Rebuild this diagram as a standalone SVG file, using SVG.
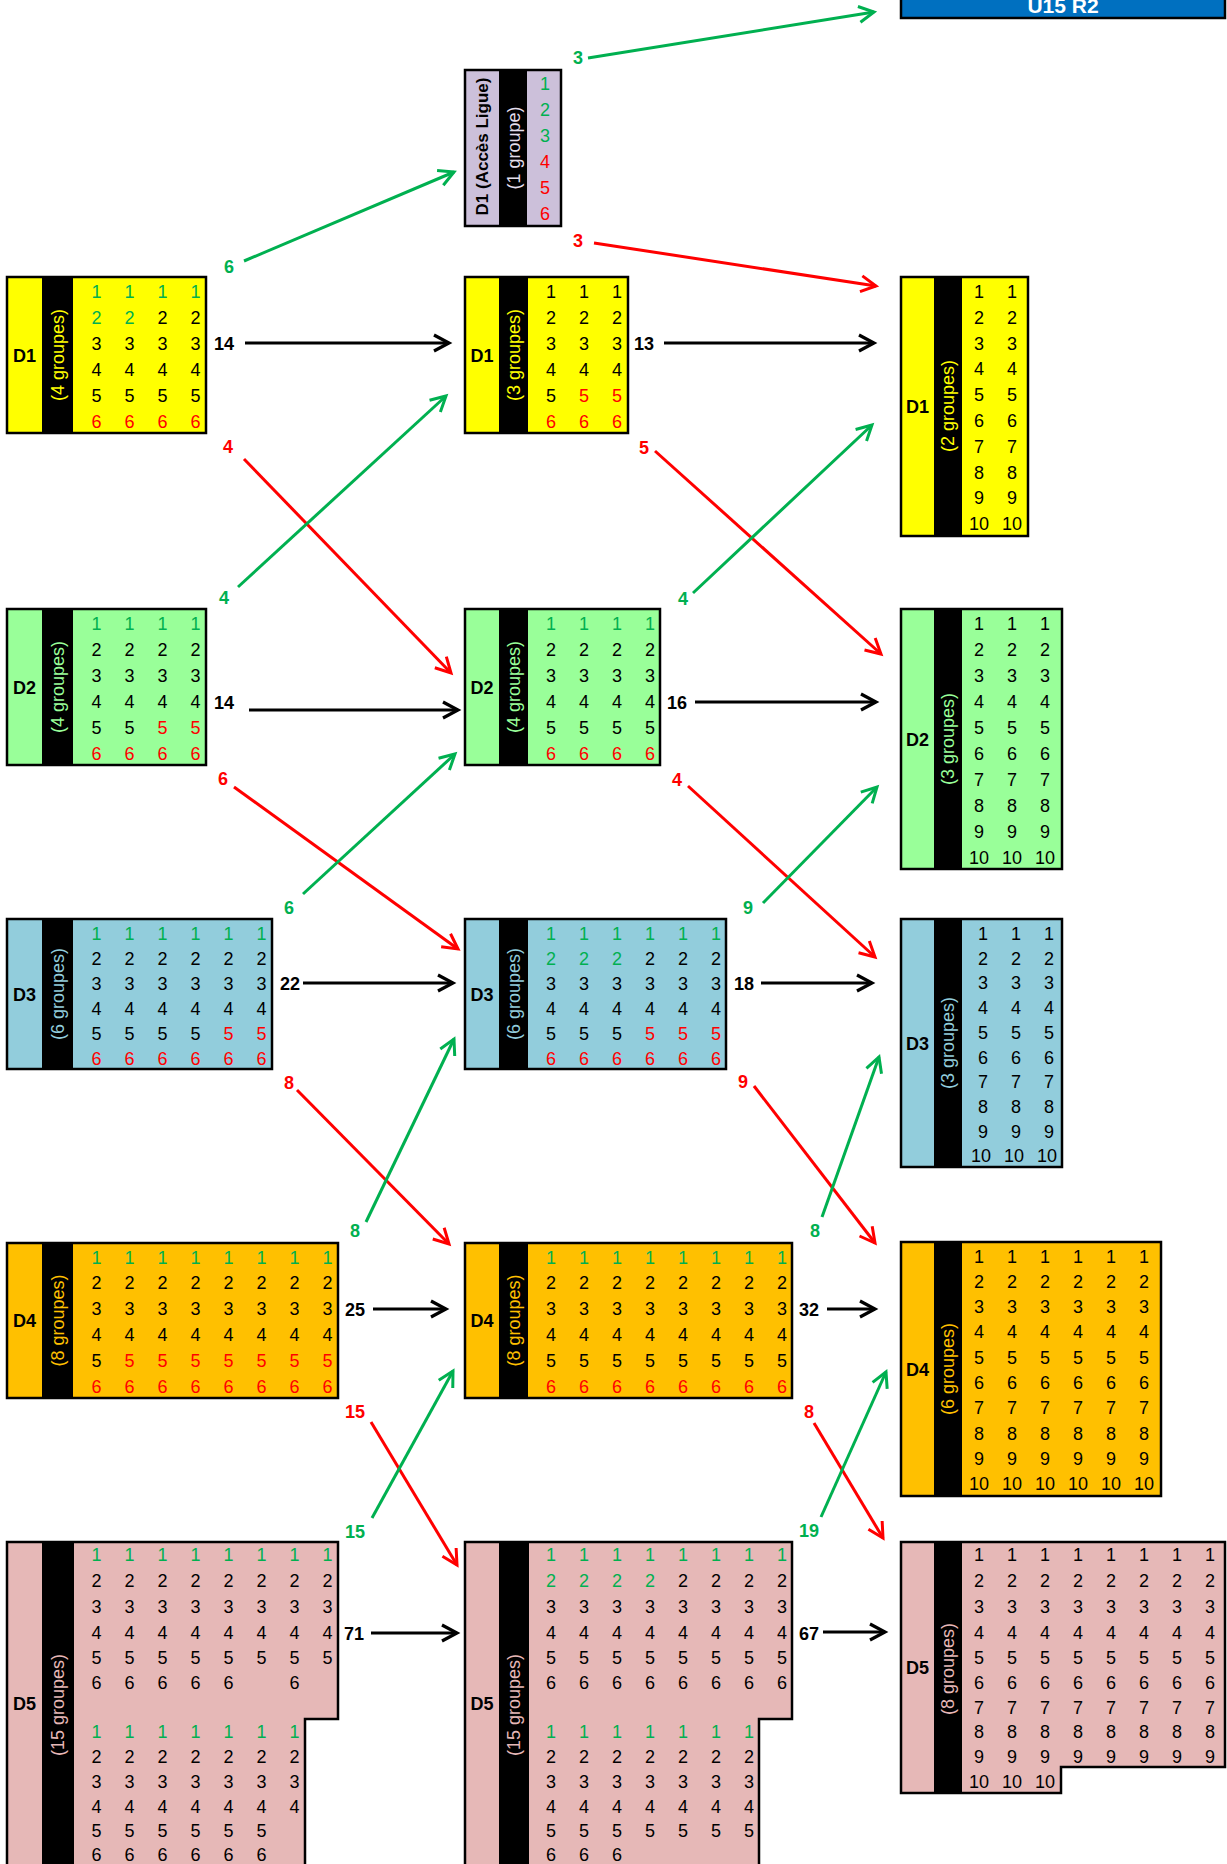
<svg xmlns="http://www.w3.org/2000/svg" width="1227" height="1864" viewBox="0 0 1227 1864">
<style>
text { font-family: "Liberation Sans", Arial, sans-serif; }
.n { font-size: 18px; text-anchor: middle; fill: #000; }
.g { fill: #00B050; }
.r { fill: #FF0000; }
.lab { font-size: 18px; font-weight: bold; text-anchor: middle; fill: #000; }
.grp { font-size: 18px; text-anchor: middle; }
.box { stroke: #000; stroke-width: 2.5; }
.cl { font-size: 18px; font-weight: bold; text-anchor: middle; }
.lk { stroke: #000; stroke-width: 3.2; fill: none; marker-end: url(#mk); }
.lg { stroke: #00B050; stroke-width: 3; fill: none; marker-end: url(#mg); }
.lr { stroke: #FF0000; stroke-width: 3; fill: none; marker-end: url(#mr); }
</style>
<defs>
<marker id="mk" markerUnits="userSpaceOnUse" markerWidth="20" markerHeight="20" viewBox="-18 -10 20 20" refX="0" refY="0" orient="auto" overflow="visible"><path d="M-15,-8 L0,0 L-15,8" fill="none" stroke="#000" stroke-width="3.2"/></marker>
<marker id="mg" markerUnits="userSpaceOnUse" markerWidth="20" markerHeight="20" viewBox="-18 -10 20 20" refX="0" refY="0" orient="auto" overflow="visible"><path d="M-15,-8 L0,0 L-15,8" fill="none" stroke="#00B050" stroke-width="3"/></marker>
<marker id="mr" markerUnits="userSpaceOnUse" markerWidth="20" markerHeight="20" viewBox="-18 -10 20 20" refX="0" refY="0" orient="auto" overflow="visible"><path d="M-15,-8 L0,0 L-15,8" fill="none" stroke="#FF0000" stroke-width="3"/></marker>
</defs>
<rect x="0" y="0" width="1227" height="1864" fill="#fff"/>

<g id="connectors">
<line class="lg" x1="588" y1="58" x2="874" y2="12"/>
<line class="lg" x1="244" y1="261" x2="454" y2="172"/>
<line class="lr" x1="594" y1="243" x2="876" y2="286"/>
<line class="lk" x1="245" y1="343" x2="449" y2="343"/>
<line class="lk" x1="664" y1="343" x2="874" y2="343"/>
<line class="lr" x1="244" y1="459" x2="451" y2="673"/>
<line class="lr" x1="655" y1="451" x2="881" y2="654"/>
<line class="lg" x1="238" y1="587" x2="446" y2="396"/>
<line class="lg" x1="693" y1="593" x2="872" y2="425"/>
<line class="lk" x1="249" y1="710" x2="458" y2="710"/>
<line class="lk" x1="695" y1="702" x2="876" y2="702"/>
<line class="lr" x1="234" y1="787" x2="458" y2="949"/>
<line class="lg" x1="303" y1="894" x2="455" y2="754"/>
<line class="lr" x1="688" y1="786" x2="875" y2="957"/>
<line class="lg" x1="763" y1="903" x2="877" y2="787"/>
<line class="lk" x1="303" y1="983" x2="453" y2="983"/>
<line class="lk" x1="761" y1="983" x2="872" y2="983"/>
<line class="lr" x1="297" y1="1090" x2="449" y2="1244"/>
<line class="lg" x1="366" y1="1222" x2="454" y2="1039"/>
<line class="lr" x1="754" y1="1086" x2="875" y2="1243"/>
<line class="lg" x1="822" y1="1217" x2="879" y2="1057"/>
<line class="lk" x1="373" y1="1309" x2="446" y2="1309"/>
<line class="lk" x1="827" y1="1309" x2="875" y2="1309"/>
<line class="lr" x1="371" y1="1422" x2="457" y2="1565"/>
<line class="lg" x1="372" y1="1518" x2="453" y2="1371"/>
<line class="lr" x1="814" y1="1423" x2="883" y2="1538"/>
<line class="lg" x1="821" y1="1517" x2="886" y2="1372"/>
<line class="lk" x1="371" y1="1633" x2="457" y2="1633"/>
<line class="lk" x1="823" y1="1632" x2="885" y2="1632"/>
<text class="cl g" x="578" y="63.5">3</text>
<text class="cl g" x="229" y="272.5">6</text>
<text class="cl r" x="578" y="246.5">3</text>
<text class="cl" x="224" y="349.5">14</text>
<text class="cl" x="644" y="349.5">13</text>
<text class="cl r" x="228" y="452.5">4</text>
<text class="cl r" x="644" y="453.5">5</text>
<text class="cl g" x="224" y="603.5">4</text>
<text class="cl g" x="683" y="604.5">4</text>
<text class="cl" x="224" y="708.5">14</text>
<text class="cl" x="677" y="708.5">16</text>
<text class="cl r" x="223" y="784.5">6</text>
<text class="cl g" x="289" y="913.5">6</text>
<text class="cl r" x="677" y="785.5">4</text>
<text class="cl g" x="748" y="913.5">9</text>
<text class="cl" x="290" y="989.5">22</text>
<text class="cl" x="744" y="989.5">18</text>
<text class="cl r" x="289" y="1088.5">8</text>
<text class="cl g" x="355" y="1236.5">8</text>
<text class="cl r" x="743" y="1087.5">9</text>
<text class="cl g" x="815" y="1236.5">8</text>
<text class="cl" x="355" y="1315.5">25</text>
<text class="cl" x="809" y="1315.5">32</text>
<text class="cl r" x="355" y="1417.5">15</text>
<text class="cl g" x="355" y="1537.5">15</text>
<text class="cl r" x="809" y="1417.5">8</text>
<text class="cl g" x="809" y="1536.5">19</text>
<text class="cl" x="354" y="1639.5">71</text>
<text class="cl" x="809" y="1639.5">67</text>
</g>

<g id="u15r2">
<rect class="box" x="901" y="-10" width="324" height="28" fill="#0070C0"/>
<text x="1063" y="13" font-size="21" font-weight="bold" text-anchor="middle" fill="#fff">U15 R2</text>
</g>

<g id="d1-acces">
<rect class="box" x="465" y="70" width="96" height="156" fill="#CCC0DA"/>
<rect x="499" y="70" width="28" height="156" fill="#000"/>
<text transform="translate(482,146.5) rotate(-90)" dy="0.35em" font-size="17" font-weight="bold" text-anchor="middle" fill="#000">D1 (Accès Ligue)</text>
<text class="grp" transform="translate(513.5,148) rotate(-90)" dy="0.35em" fill="#E4DFEC">(1 groupe)</text>
<g class="n">
<text class="g" x="545" y="89.5">1</text>
<text class="g" x="545" y="115.5">2</text>
<text class="g" x="545" y="141.5">3</text>
<text class="r" x="545" y="167.5">4</text>
<text class="r" x="545" y="193.5">5</text>
<text class="r" x="545" y="219.5">6</text>
</g>
</g>

<g id="d1-left">
<rect class="box" x="7" y="277" width="199" height="156" fill="#FFFF00"/>
<rect x="42" y="277" width="31" height="156" fill="#000"/>
<text class="lab" x="24.5" y="361.5">D1</text>
<text class="grp" transform="translate(57.5,355) rotate(-90)" dy="0.35em" fill="#FFFF00">(4 groupes)</text>
<g class="n">
<text class="g" x="96.5" y="298">1</text><text class="g" x="129.5" y="298">1</text><text class="g" x="162.5" y="298">1</text><text class="g" x="195.5" y="298">1</text>
<text class="g" x="96.5" y="324">2</text><text class="g" x="129.5" y="324">2</text><text x="162.5" y="324">2</text><text x="195.5" y="324">2</text>
<text x="96.5" y="350">3</text><text x="129.5" y="350">3</text><text x="162.5" y="350">3</text><text x="195.5" y="350">3</text>
<text x="96.5" y="376">4</text><text x="129.5" y="376">4</text><text x="162.5" y="376">4</text><text x="195.5" y="376">4</text>
<text x="96.5" y="402">5</text><text x="129.5" y="402">5</text><text x="162.5" y="402">5</text><text x="195.5" y="402">5</text>
<text class="r" x="96.5" y="428">6</text><text class="r" x="129.5" y="428">6</text><text class="r" x="162.5" y="428">6</text><text class="r" x="195.5" y="428">6</text>
</g>
</g>

<g id="d1-mid">
<rect class="box" x="465" y="277" width="163" height="156" fill="#FFFF00"/>
<rect x="499" y="277" width="29" height="156" fill="#000"/>
<text class="lab" x="482" y="361.5">D1</text>
<text class="grp" transform="translate(513.5,355) rotate(-90)" dy="0.35em" fill="#FFFF00">(3 groupes)</text>
<g class="n">
<text x="551" y="298">1</text><text x="584" y="298">1</text><text x="617" y="298">1</text>
<text x="551" y="324">2</text><text x="584" y="324">2</text><text x="617" y="324">2</text>
<text x="551" y="350">3</text><text x="584" y="350">3</text><text x="617" y="350">3</text>
<text x="551" y="376">4</text><text x="584" y="376">4</text><text x="617" y="376">4</text>
<text x="551" y="402">5</text><text class="r" x="584" y="402">5</text><text class="r" x="617" y="402">5</text>
<text class="r" x="551" y="428">6</text><text class="r" x="584" y="428">6</text><text class="r" x="617" y="428">6</text>
</g>
</g>

<g id="d1-right">
<rect class="box" x="901" y="277" width="127" height="259" fill="#FFFF00"/>
<rect x="934" y="277" width="28" height="259" fill="#000"/>
<text class="lab" x="917.5" y="413">D1</text>
<text class="grp" transform="translate(948,406) rotate(-90)" dy="0.35em" fill="#FFFF00">(2 groupes)</text>
<g class="n">
<text x="979" y="298">1</text><text x="1012" y="298">1</text>
<text x="979" y="324">2</text><text x="1012" y="324">2</text>
<text x="979" y="350">3</text><text x="1012" y="350">3</text>
<text x="979" y="375">4</text><text x="1012" y="375">4</text>
<text x="979" y="401">5</text><text x="1012" y="401">5</text>
<text x="979" y="427">6</text><text x="1012" y="427">6</text>
<text x="979" y="453">7</text><text x="1012" y="453">7</text>
<text x="979" y="478.5">8</text><text x="1012" y="478.5">8</text>
<text x="979" y="504">9</text><text x="1012" y="504">9</text>
<text x="979" y="530">10</text><text x="1012" y="530">10</text>
</g>
</g>

<g id="d2-left">
<rect class="box" x="7" y="609" width="199" height="156" fill="#99FF99"/>
<rect x="42" y="609" width="31" height="156" fill="#000"/>
<text class="lab" x="24.5" y="693.5">D2</text>
<text class="grp" transform="translate(57.5,687) rotate(-90)" dy="0.35em" fill="#99FF99">(4 groupes)</text>
<g class="n">
<text class="g" x="96.5" y="630">1</text><text class="g" x="129.5" y="630">1</text><text class="g" x="162.5" y="630">1</text><text class="g" x="195.5" y="630">1</text>
<text x="96.5" y="656">2</text><text x="129.5" y="656">2</text><text x="162.5" y="656">2</text><text x="195.5" y="656">2</text>
<text x="96.5" y="682">3</text><text x="129.5" y="682">3</text><text x="162.5" y="682">3</text><text x="195.5" y="682">3</text>
<text x="96.5" y="708">4</text><text x="129.5" y="708">4</text><text x="162.5" y="708">4</text><text x="195.5" y="708">4</text>
<text x="96.5" y="734">5</text><text x="129.5" y="734">5</text><text class="r" x="162.5" y="734">5</text><text class="r" x="195.5" y="734">5</text>
<text class="r" x="96.5" y="760">6</text><text class="r" x="129.5" y="760">6</text><text class="r" x="162.5" y="760">6</text><text class="r" x="195.5" y="760">6</text>
</g>
</g>

<g id="d2-mid">
<rect class="box" x="465" y="609" width="195" height="156" fill="#99FF99"/>
<rect x="499" y="609" width="29" height="156" fill="#000"/>
<text class="lab" x="482" y="693.5">D2</text>
<text class="grp" transform="translate(513.5,687) rotate(-90)" dy="0.35em" fill="#99FF99">(4 groupes)</text>
<g class="n">
<text class="g" x="551" y="630">1</text><text class="g" x="584" y="630">1</text><text class="g" x="617" y="630">1</text><text class="g" x="650" y="630">1</text>
<text x="551" y="656">2</text><text x="584" y="656">2</text><text x="617" y="656">2</text><text x="650" y="656">2</text>
<text x="551" y="682">3</text><text x="584" y="682">3</text><text x="617" y="682">3</text><text x="650" y="682">3</text>
<text x="551" y="708">4</text><text x="584" y="708">4</text><text x="617" y="708">4</text><text x="650" y="708">4</text>
<text x="551" y="734">5</text><text x="584" y="734">5</text><text x="617" y="734">5</text><text x="650" y="734">5</text>
<text class="r" x="551" y="760">6</text><text class="r" x="584" y="760">6</text><text class="r" x="617" y="760">6</text><text class="r" x="650" y="760">6</text>
</g>
</g>

<g id="d2-right">
<rect class="box" x="901" y="609" width="161" height="260" fill="#99FF99"/>
<rect x="934" y="609" width="28" height="260" fill="#000"/>
<text class="lab" x="917.5" y="745.5">D2</text>
<text class="grp" transform="translate(948,739) rotate(-90)" dy="0.35em" fill="#99FF99">(3 groupes)</text>
<g class="n">
<text x="979" y="630">1</text><text x="1012" y="630">1</text><text x="1045" y="630">1</text>
<text x="979" y="656">2</text><text x="1012" y="656">2</text><text x="1045" y="656">2</text>
<text x="979" y="682">3</text><text x="1012" y="682">3</text><text x="1045" y="682">3</text>
<text x="979" y="708">4</text><text x="1012" y="708">4</text><text x="1045" y="708">4</text>
<text x="979" y="734">5</text><text x="1012" y="734">5</text><text x="1045" y="734">5</text>
<text x="979" y="760">6</text><text x="1012" y="760">6</text><text x="1045" y="760">6</text>
<text x="979" y="786">7</text><text x="1012" y="786">7</text><text x="1045" y="786">7</text>
<text x="979" y="812">8</text><text x="1012" y="812">8</text><text x="1045" y="812">8</text>
<text x="979" y="838">9</text><text x="1012" y="838">9</text><text x="1045" y="838">9</text>
<text x="979" y="864">10</text><text x="1012" y="864">10</text><text x="1045" y="864">10</text>
</g>
</g>

<g id="d3-left">
<rect class="box" x="7" y="919" width="265" height="150" fill="#92CDDC"/>
<rect x="42" y="919" width="31" height="150" fill="#000"/>
<text class="lab" x="24.5" y="1000.5">D3</text>
<text class="grp" transform="translate(57.5,994) rotate(-90)" dy="0.35em" fill="#92CDDC">(6 groupes)</text>
<g class="n">
<text class="g" x="96.5" y="939.5">1</text><text class="g" x="129.5" y="939.5">1</text><text class="g" x="162.5" y="939.5">1</text><text class="g" x="195.5" y="939.5">1</text><text class="g" x="228.5" y="939.5">1</text><text class="g" x="261.5" y="939.5">1</text>
<text x="96.5" y="964.5">2</text><text x="129.5" y="964.5">2</text><text x="162.5" y="964.5">2</text><text x="195.5" y="964.5">2</text><text x="228.5" y="964.5">2</text><text x="261.5" y="964.5">2</text>
<text x="96.5" y="989.5">3</text><text x="129.5" y="989.5">3</text><text x="162.5" y="989.5">3</text><text x="195.5" y="989.5">3</text><text x="228.5" y="989.5">3</text><text x="261.5" y="989.5">3</text>
<text x="96.5" y="1014.5">4</text><text x="129.5" y="1014.5">4</text><text x="162.5" y="1014.5">4</text><text x="195.5" y="1014.5">4</text><text x="228.5" y="1014.5">4</text><text x="261.5" y="1014.5">4</text>
<text x="96.5" y="1039.5">5</text><text x="129.5" y="1039.5">5</text><text x="162.5" y="1039.5">5</text><text x="195.5" y="1039.5">5</text><text class="r" x="228.5" y="1039.5">5</text><text class="r" x="261.5" y="1039.5">5</text>
<text class="r" x="96.5" y="1064.5">6</text><text class="r" x="129.5" y="1064.5">6</text><text class="r" x="162.5" y="1064.5">6</text><text class="r" x="195.5" y="1064.5">6</text><text class="r" x="228.5" y="1064.5">6</text><text class="r" x="261.5" y="1064.5">6</text>
</g>
</g>

<g id="d3-mid">
<rect class="box" x="465" y="919" width="261" height="150" fill="#92CDDC"/>
<rect x="499" y="919" width="29" height="150" fill="#000"/>
<text class="lab" x="482" y="1000.5">D3</text>
<text class="grp" transform="translate(513.5,994) rotate(-90)" dy="0.35em" fill="#92CDDC">(6 groupes)</text>
<g class="n">
<text class="g" x="551" y="939.5">1</text><text class="g" x="584" y="939.5">1</text><text class="g" x="617" y="939.5">1</text><text class="g" x="650" y="939.5">1</text><text class="g" x="683" y="939.5">1</text><text class="g" x="716" y="939.5">1</text>
<text class="g" x="551" y="964.5">2</text><text class="g" x="584" y="964.5">2</text><text class="g" x="617" y="964.5">2</text><text x="650" y="964.5">2</text><text x="683" y="964.5">2</text><text x="716" y="964.5">2</text>
<text x="551" y="989.5">3</text><text x="584" y="989.5">3</text><text x="617" y="989.5">3</text><text x="650" y="989.5">3</text><text x="683" y="989.5">3</text><text x="716" y="989.5">3</text>
<text x="551" y="1014.5">4</text><text x="584" y="1014.5">4</text><text x="617" y="1014.5">4</text><text x="650" y="1014.5">4</text><text x="683" y="1014.5">4</text><text x="716" y="1014.5">4</text>
<text x="551" y="1039.5">5</text><text x="584" y="1039.5">5</text><text x="617" y="1039.5">5</text><text class="r" x="650" y="1039.5">5</text><text class="r" x="683" y="1039.5">5</text><text class="r" x="716" y="1039.5">5</text>
<text class="r" x="551" y="1064.5">6</text><text class="r" x="584" y="1064.5">6</text><text class="r" x="617" y="1064.5">6</text><text class="r" x="650" y="1064.5">6</text><text class="r" x="683" y="1064.5">6</text><text class="r" x="716" y="1064.5">6</text>
</g>
</g>

<g id="d3-right">
<rect class="box" x="901" y="919" width="161" height="248" fill="#92CDDC"/>
<rect x="934" y="919" width="28" height="248" fill="#000"/>
<text class="lab" x="917.5" y="1049.5">D3</text>
<text class="grp" transform="translate(948,1043) rotate(-90)" dy="0.35em" fill="#92CDDC">(3 groupes)</text>
<g class="n">
<text x="983" y="940">1</text><text x="1016" y="940">1</text><text x="1049" y="940">1</text>
<text x="983" y="964.7">2</text><text x="1016" y="964.7">2</text><text x="1049" y="964.7">2</text>
<text x="983" y="989.4">3</text><text x="1016" y="989.4">3</text><text x="1049" y="989.4">3</text>
<text x="983" y="1014.1">4</text><text x="1016" y="1014.1">4</text><text x="1049" y="1014.1">4</text>
<text x="983" y="1038.8">5</text><text x="1016" y="1038.8">5</text><text x="1049" y="1038.8">5</text>
<text x="983" y="1063.5">6</text><text x="1016" y="1063.5">6</text><text x="1049" y="1063.5">6</text>
<text x="983" y="1088.2">7</text><text x="1016" y="1088.2">7</text><text x="1049" y="1088.2">7</text>
<text x="983" y="1112.9">8</text><text x="1016" y="1112.9">8</text><text x="1049" y="1112.9">8</text>
<text x="983" y="1137.6">9</text><text x="1016" y="1137.6">9</text><text x="1049" y="1137.6">9</text>
<text x="981" y="1162.3">10</text><text x="1014" y="1162.3">10</text><text x="1047" y="1162.3">10</text>
</g>
</g>

<g id="d4-left">
<rect class="box" x="7" y="1243" width="331" height="155" fill="#FFC000"/>
<rect x="42" y="1243" width="31" height="155" fill="#000"/>
<text class="lab" x="24.5" y="1327">D4</text>
<text class="grp" transform="translate(57.5,1320.5) rotate(-90)" dy="0.35em" fill="#FFC000">(8 groupes)</text>
<g class="n">
<text class="g" x="96.5" y="1263.5">1</text><text class="g" x="129.5" y="1263.5">1</text><text class="g" x="162.5" y="1263.5">1</text><text class="g" x="195.5" y="1263.5">1</text><text class="g" x="228.5" y="1263.5">1</text><text class="g" x="261.5" y="1263.5">1</text><text class="g" x="294.5" y="1263.5">1</text><text class="g" x="327.5" y="1263.5">1</text>
<text x="96.5" y="1289.3">2</text><text x="129.5" y="1289.3">2</text><text x="162.5" y="1289.3">2</text><text x="195.5" y="1289.3">2</text><text x="228.5" y="1289.3">2</text><text x="261.5" y="1289.3">2</text><text x="294.5" y="1289.3">2</text><text x="327.5" y="1289.3">2</text>
<text x="96.5" y="1315.1">3</text><text x="129.5" y="1315.1">3</text><text x="162.5" y="1315.1">3</text><text x="195.5" y="1315.1">3</text><text x="228.5" y="1315.1">3</text><text x="261.5" y="1315.1">3</text><text x="294.5" y="1315.1">3</text><text x="327.5" y="1315.1">3</text>
<text x="96.5" y="1340.9">4</text><text x="129.5" y="1340.9">4</text><text x="162.5" y="1340.9">4</text><text x="195.5" y="1340.9">4</text><text x="228.5" y="1340.9">4</text><text x="261.5" y="1340.9">4</text><text x="294.5" y="1340.9">4</text><text x="327.5" y="1340.9">4</text>
<text x="96.5" y="1366.7">5</text><text class="r" x="129.5" y="1366.7">5</text><text class="r" x="162.5" y="1366.7">5</text><text class="r" x="195.5" y="1366.7">5</text><text class="r" x="228.5" y="1366.7">5</text><text class="r" x="261.5" y="1366.7">5</text><text class="r" x="294.5" y="1366.7">5</text><text class="r" x="327.5" y="1366.7">5</text>
<text class="r" x="96.5" y="1392.5">6</text><text class="r" x="129.5" y="1392.5">6</text><text class="r" x="162.5" y="1392.5">6</text><text class="r" x="195.5" y="1392.5">6</text><text class="r" x="228.5" y="1392.5">6</text><text class="r" x="261.5" y="1392.5">6</text><text class="r" x="294.5" y="1392.5">6</text><text class="r" x="327.5" y="1392.5">6</text>
</g>
</g>

<g id="d4-mid">
<rect class="box" x="465" y="1243" width="327" height="155" fill="#FFC000"/>
<rect x="499" y="1243" width="29" height="155" fill="#000"/>
<text class="lab" x="482" y="1327">D4</text>
<text class="grp" transform="translate(513.5,1320.5) rotate(-90)" dy="0.35em" fill="#FFC000">(8 groupes)</text>
<g class="n">
<text class="g" x="551" y="1263.5">1</text><text class="g" x="584" y="1263.5">1</text><text class="g" x="617" y="1263.5">1</text><text class="g" x="650" y="1263.5">1</text><text class="g" x="683" y="1263.5">1</text><text class="g" x="716" y="1263.5">1</text><text class="g" x="749" y="1263.5">1</text><text class="g" x="782" y="1263.5">1</text>
<text x="551" y="1289.3">2</text><text x="584" y="1289.3">2</text><text x="617" y="1289.3">2</text><text x="650" y="1289.3">2</text><text x="683" y="1289.3">2</text><text x="716" y="1289.3">2</text><text x="749" y="1289.3">2</text><text x="782" y="1289.3">2</text>
<text x="551" y="1315.1">3</text><text x="584" y="1315.1">3</text><text x="617" y="1315.1">3</text><text x="650" y="1315.1">3</text><text x="683" y="1315.1">3</text><text x="716" y="1315.1">3</text><text x="749" y="1315.1">3</text><text x="782" y="1315.1">3</text>
<text x="551" y="1340.9">4</text><text x="584" y="1340.9">4</text><text x="617" y="1340.9">4</text><text x="650" y="1340.9">4</text><text x="683" y="1340.9">4</text><text x="716" y="1340.9">4</text><text x="749" y="1340.9">4</text><text x="782" y="1340.9">4</text>
<text x="551" y="1366.7">5</text><text x="584" y="1366.7">5</text><text x="617" y="1366.7">5</text><text x="650" y="1366.7">5</text><text x="683" y="1366.7">5</text><text x="716" y="1366.7">5</text><text x="749" y="1366.7">5</text><text x="782" y="1366.7">5</text>
<text class="r" x="551" y="1392.5">6</text><text class="r" x="584" y="1392.5">6</text><text class="r" x="617" y="1392.5">6</text><text class="r" x="650" y="1392.5">6</text><text class="r" x="683" y="1392.5">6</text><text class="r" x="716" y="1392.5">6</text><text class="r" x="749" y="1392.5">6</text><text class="r" x="782" y="1392.5">6</text>
</g>
</g>

<g id="d4-right">
<rect class="box" x="901" y="1242" width="260" height="254" fill="#FFC000"/>
<rect x="934" y="1242" width="28" height="254" fill="#000"/>
<text class="lab" x="917.5" y="1375.5">D4</text>
<text class="grp" transform="translate(948,1369) rotate(-90)" dy="0.35em" fill="#FFC000">(6 groupes)</text>
<g class="n">
<text x="979" y="1262.5">1</text><text x="1012" y="1262.5">1</text><text x="1045" y="1262.5">1</text><text x="1078" y="1262.5">1</text><text x="1111" y="1262.5">1</text><text x="1144" y="1262.5">1</text>
<text x="979" y="1287.8">2</text><text x="1012" y="1287.8">2</text><text x="1045" y="1287.8">2</text><text x="1078" y="1287.8">2</text><text x="1111" y="1287.8">2</text><text x="1144" y="1287.8">2</text>
<text x="979" y="1313.1">3</text><text x="1012" y="1313.1">3</text><text x="1045" y="1313.1">3</text><text x="1078" y="1313.1">3</text><text x="1111" y="1313.1">3</text><text x="1144" y="1313.1">3</text>
<text x="979" y="1338.4">4</text><text x="1012" y="1338.4">4</text><text x="1045" y="1338.4">4</text><text x="1078" y="1338.4">4</text><text x="1111" y="1338.4">4</text><text x="1144" y="1338.4">4</text>
<text x="979" y="1363.7">5</text><text x="1012" y="1363.7">5</text><text x="1045" y="1363.7">5</text><text x="1078" y="1363.7">5</text><text x="1111" y="1363.7">5</text><text x="1144" y="1363.7">5</text>
<text x="979" y="1389">6</text><text x="1012" y="1389">6</text><text x="1045" y="1389">6</text><text x="1078" y="1389">6</text><text x="1111" y="1389">6</text><text x="1144" y="1389">6</text>
<text x="979" y="1414.3">7</text><text x="1012" y="1414.3">7</text><text x="1045" y="1414.3">7</text><text x="1078" y="1414.3">7</text><text x="1111" y="1414.3">7</text><text x="1144" y="1414.3">7</text>
<text x="979" y="1439.6">8</text><text x="1012" y="1439.6">8</text><text x="1045" y="1439.6">8</text><text x="1078" y="1439.6">8</text><text x="1111" y="1439.6">8</text><text x="1144" y="1439.6">8</text>
<text x="979" y="1464.9">9</text><text x="1012" y="1464.9">9</text><text x="1045" y="1464.9">9</text><text x="1078" y="1464.9">9</text><text x="1111" y="1464.9">9</text><text x="1144" y="1464.9">9</text>
<text x="979" y="1490.2">10</text><text x="1012" y="1490.2">10</text><text x="1045" y="1490.2">10</text><text x="1078" y="1490.2">10</text><text x="1111" y="1490.2">10</text><text x="1144" y="1490.2">10</text>
</g>
</g>

<g id="d5-left">
<path class="box" d="M7,1542 H338 V1719 H305 V1870 H7 Z" fill="#E6B8B7"/>
<rect x="42" y="1542" width="32" height="330" fill="#000"/>
<text class="lab" x="24.5" y="1709.5">D5</text>
<text class="grp" transform="translate(58,1705) rotate(-90)" dy="0.35em" fill="#E6B8B7">(15 groupes)</text>
<g class="n">
<text class="g" x="96.5" y="1561">1</text><text class="g" x="129.5" y="1561">1</text><text class="g" x="162.5" y="1561">1</text><text class="g" x="195.5" y="1561">1</text><text class="g" x="228.5" y="1561">1</text><text class="g" x="261.5" y="1561">1</text><text class="g" x="294.5" y="1561">1</text><text class="g" x="327.5" y="1561">1</text>
<text x="96.5" y="1587">2</text><text x="129.5" y="1587">2</text><text x="162.5" y="1587">2</text><text x="195.5" y="1587">2</text><text x="228.5" y="1587">2</text><text x="261.5" y="1587">2</text><text x="294.5" y="1587">2</text><text x="327.5" y="1587">2</text>
<text x="96.5" y="1613">3</text><text x="129.5" y="1613">3</text><text x="162.5" y="1613">3</text><text x="195.5" y="1613">3</text><text x="228.5" y="1613">3</text><text x="261.5" y="1613">3</text><text x="294.5" y="1613">3</text><text x="327.5" y="1613">3</text>
<text x="96.5" y="1639">4</text><text x="129.5" y="1639">4</text><text x="162.5" y="1639">4</text><text x="195.5" y="1639">4</text><text x="228.5" y="1639">4</text><text x="261.5" y="1639">4</text><text x="294.5" y="1639">4</text><text x="327.5" y="1639">4</text>
<text x="96.5" y="1664">5</text><text x="129.5" y="1664">5</text><text x="162.5" y="1664">5</text><text x="195.5" y="1664">5</text><text x="228.5" y="1664">5</text><text x="261.5" y="1664">5</text><text x="294.5" y="1664">5</text><text x="327.5" y="1664">5</text>
<text x="96.5" y="1688.5">6</text><text x="129.5" y="1688.5">6</text><text x="162.5" y="1688.5">6</text><text x="195.5" y="1688.5">6</text><text x="228.5" y="1688.5">6</text><text x="294.5" y="1688.5">6</text>
<text class="g" x="96.5" y="1737.5">1</text><text class="g" x="129.5" y="1737.5">1</text><text class="g" x="162.5" y="1737.5">1</text><text class="g" x="195.5" y="1737.5">1</text><text class="g" x="228.5" y="1737.5">1</text><text class="g" x="261.5" y="1737.5">1</text><text class="g" x="294.5" y="1737.5">1</text>
<text x="96.5" y="1762.5">2</text><text x="129.5" y="1762.5">2</text><text x="162.5" y="1762.5">2</text><text x="195.5" y="1762.5">2</text><text x="228.5" y="1762.5">2</text><text x="261.5" y="1762.5">2</text><text x="294.5" y="1762.5">2</text>
<text x="96.5" y="1787.5">3</text><text x="129.5" y="1787.5">3</text><text x="162.5" y="1787.5">3</text><text x="195.5" y="1787.5">3</text><text x="228.5" y="1787.5">3</text><text x="261.5" y="1787.5">3</text><text x="294.5" y="1787.5">3</text>
<text x="96.5" y="1812.5">4</text><text x="129.5" y="1812.5">4</text><text x="162.5" y="1812.5">4</text><text x="195.5" y="1812.5">4</text><text x="228.5" y="1812.5">4</text><text x="261.5" y="1812.5">4</text><text x="294.5" y="1812.5">4</text>
<text x="96.5" y="1836.5">5</text><text x="129.5" y="1836.5">5</text><text x="162.5" y="1836.5">5</text><text x="195.5" y="1836.5">5</text><text x="228.5" y="1836.5">5</text><text x="261.5" y="1836.5">5</text>
<text x="96.5" y="1860.5">6</text><text x="129.5" y="1860.5">6</text><text x="162.5" y="1860.5">6</text><text x="195.5" y="1860.5">6</text><text x="228.5" y="1860.5">6</text><text x="261.5" y="1860.5">6</text>
</g>
</g>

<g id="d5-mid">
<path class="box" d="M465,1542 H792 V1719 H759 V1870 H465 Z" fill="#E6B8B7"/>
<rect x="499" y="1542" width="30" height="330" fill="#000"/>
<text class="lab" x="482" y="1709.5">D5</text>
<text class="grp" transform="translate(514,1705) rotate(-90)" dy="0.35em" fill="#E6B8B7">(15 groupes)</text>
<g class="n">
<text class="g" x="551" y="1561">1</text><text class="g" x="584" y="1561">1</text><text class="g" x="617" y="1561">1</text><text class="g" x="650" y="1561">1</text><text class="g" x="683" y="1561">1</text><text class="g" x="716" y="1561">1</text><text class="g" x="749" y="1561">1</text><text class="g" x="782" y="1561">1</text>
<text class="g" x="551" y="1587">2</text><text class="g" x="584" y="1587">2</text><text class="g" x="617" y="1587">2</text><text class="g" x="650" y="1587">2</text><text x="683" y="1587">2</text><text x="716" y="1587">2</text><text x="749" y="1587">2</text><text x="782" y="1587">2</text>
<text x="551" y="1613">3</text><text x="584" y="1613">3</text><text x="617" y="1613">3</text><text x="650" y="1613">3</text><text x="683" y="1613">3</text><text x="716" y="1613">3</text><text x="749" y="1613">3</text><text x="782" y="1613">3</text>
<text x="551" y="1639">4</text><text x="584" y="1639">4</text><text x="617" y="1639">4</text><text x="650" y="1639">4</text><text x="683" y="1639">4</text><text x="716" y="1639">4</text><text x="749" y="1639">4</text><text x="782" y="1639">4</text>
<text x="551" y="1664">5</text><text x="584" y="1664">5</text><text x="617" y="1664">5</text><text x="650" y="1664">5</text><text x="683" y="1664">5</text><text x="716" y="1664">5</text><text x="749" y="1664">5</text><text x="782" y="1664">5</text>
<text x="551" y="1688.5">6</text><text x="584" y="1688.5">6</text><text x="617" y="1688.5">6</text><text x="650" y="1688.5">6</text><text x="683" y="1688.5">6</text><text x="716" y="1688.5">6</text><text x="749" y="1688.5">6</text><text x="782" y="1688.5">6</text>
<text class="g" x="551" y="1737.5">1</text><text class="g" x="584" y="1737.5">1</text><text class="g" x="617" y="1737.5">1</text><text class="g" x="650" y="1737.5">1</text><text class="g" x="683" y="1737.5">1</text><text class="g" x="716" y="1737.5">1</text><text class="g" x="749" y="1737.5">1</text>
<text x="551" y="1762.5">2</text><text x="584" y="1762.5">2</text><text x="617" y="1762.5">2</text><text x="650" y="1762.5">2</text><text x="683" y="1762.5">2</text><text x="716" y="1762.5">2</text><text x="749" y="1762.5">2</text>
<text x="551" y="1787.5">3</text><text x="584" y="1787.5">3</text><text x="617" y="1787.5">3</text><text x="650" y="1787.5">3</text><text x="683" y="1787.5">3</text><text x="716" y="1787.5">3</text><text x="749" y="1787.5">3</text>
<text x="551" y="1812.5">4</text><text x="584" y="1812.5">4</text><text x="617" y="1812.5">4</text><text x="650" y="1812.5">4</text><text x="683" y="1812.5">4</text><text x="716" y="1812.5">4</text><text x="749" y="1812.5">4</text>
<text x="551" y="1836.5">5</text><text x="584" y="1836.5">5</text><text x="617" y="1836.5">5</text><text x="650" y="1836.5">5</text><text x="683" y="1836.5">5</text><text x="716" y="1836.5">5</text><text x="749" y="1836.5">5</text>
<text x="551" y="1860.5">6</text><text x="584" y="1860.5">6</text><text x="617" y="1860.5">6</text>
</g>
</g>

<g id="d5-right">
<path class="box" d="M901,1542 H1225 V1767 H1061 V1793 H901 Z" fill="#E6B8B7"/>
<rect x="934" y="1542" width="28" height="251" fill="#000"/>
<text class="lab" x="917.5" y="1674">D5</text>
<text class="grp" transform="translate(948,1669) rotate(-90)" dy="0.35em" fill="#E6B8B7">(8 groupes)</text>
<g class="n">
<text x="979" y="1560.5">1</text><text x="1012" y="1560.5">1</text><text x="1045" y="1560.5">1</text><text x="1078" y="1560.5">1</text><text x="1111" y="1560.5">1</text><text x="1144" y="1560.5">1</text><text x="1177" y="1560.5">1</text><text x="1210" y="1560.5">1</text>
<text x="979" y="1587">2</text><text x="1012" y="1587">2</text><text x="1045" y="1587">2</text><text x="1078" y="1587">2</text><text x="1111" y="1587">2</text><text x="1144" y="1587">2</text><text x="1177" y="1587">2</text><text x="1210" y="1587">2</text>
<text x="979" y="1613">3</text><text x="1012" y="1613">3</text><text x="1045" y="1613">3</text><text x="1078" y="1613">3</text><text x="1111" y="1613">3</text><text x="1144" y="1613">3</text><text x="1177" y="1613">3</text><text x="1210" y="1613">3</text>
<text x="979" y="1639">4</text><text x="1012" y="1639">4</text><text x="1045" y="1639">4</text><text x="1078" y="1639">4</text><text x="1111" y="1639">4</text><text x="1144" y="1639">4</text><text x="1177" y="1639">4</text><text x="1210" y="1639">4</text>
<text x="979" y="1664">5</text><text x="1012" y="1664">5</text><text x="1045" y="1664">5</text><text x="1078" y="1664">5</text><text x="1111" y="1664">5</text><text x="1144" y="1664">5</text><text x="1177" y="1664">5</text><text x="1210" y="1664">5</text>
<text x="979" y="1688.5">6</text><text x="1012" y="1688.5">6</text><text x="1045" y="1688.5">6</text><text x="1078" y="1688.5">6</text><text x="1111" y="1688.5">6</text><text x="1144" y="1688.5">6</text><text x="1177" y="1688.5">6</text><text x="1210" y="1688.5">6</text>
<text x="979" y="1713.5">7</text><text x="1012" y="1713.5">7</text><text x="1045" y="1713.5">7</text><text x="1078" y="1713.5">7</text><text x="1111" y="1713.5">7</text><text x="1144" y="1713.5">7</text><text x="1177" y="1713.5">7</text><text x="1210" y="1713.5">7</text>
<text x="979" y="1737.5">8</text><text x="1012" y="1737.5">8</text><text x="1045" y="1737.5">8</text><text x="1078" y="1737.5">8</text><text x="1111" y="1737.5">8</text><text x="1144" y="1737.5">8</text><text x="1177" y="1737.5">8</text><text x="1210" y="1737.5">8</text>
<text x="979" y="1762.5">9</text><text x="1012" y="1762.5">9</text><text x="1045" y="1762.5">9</text><text x="1078" y="1762.5">9</text><text x="1111" y="1762.5">9</text><text x="1144" y="1762.5">9</text><text x="1177" y="1762.5">9</text><text x="1210" y="1762.5">9</text>
<text x="979" y="1787.5">10</text><text x="1012" y="1787.5">10</text><text x="1045" y="1787.5">10</text>
</g>
</g>
</svg>
